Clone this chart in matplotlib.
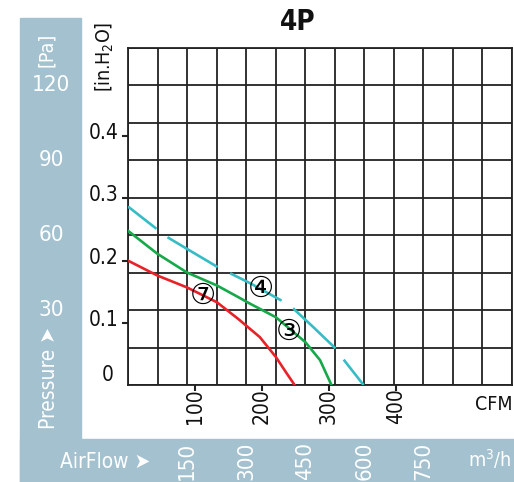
# -*- coding:utf-8 -*-
"""4P 风机 P-Q 曲线"""
import matplotlib
matplotlib.use('Agg')
import matplotlib.pyplot as plt
from matplotlib.patches import Rectangle
from matplotlib.ticker import FixedLocator, NullFormatter
import matplotlib.transforms as mtransforms

plt.rcParams['font.family'] = ['DejaVu Sans']
plt.rcParams['font.stretch'] = 'condensed'
plt.rcParams['lines.scale_dashes'] = False

# 数据 (CFM, inH2O)
red_q = [0, 44, 88, 133, 165, 197, 221, 237, 249]
red_p = [0.200, 0.176, 0.157, 0.133, 0.106, 0.077, 0.045, 0.019, 0.0]
green_q = [0, 44, 88, 133, 167, 182, 221, 265, 287, 304]
green_p = [0.248, 0.211, 0.181, 0.160, 0.140, 0.131, 0.109, 0.069, 0.040, 0.0]
cyan_q = [0, 44, 60, 88, 135, 154, 182, 229, 247, 277, 309, 320, 352]
cyan_p = [0.287, 0.250, 0.237, 0.219, 0.189, 0.179, 0.164, 0.136, 0.123, 0.093, 0.060, 0.044, 0.0]

cfm_ticks = [100, 200, 300, 400]
inh2o_ticks = [0.1, 0.2, 0.3, 0.4]
pa_labels = [30, 60, 90, 120]
m3h_labels = [150, 300, 450, 600, 750]

PA_PER_INH2O = 249.09
M3H_PER_CFM = 1.699

bg = '#a4c1d0'

fig = plt.figure(figsize=(5.14, 4.82), dpi=100)
W, H = 514, 482

# 蓝色背景
fig.patches.append(Rectangle((20 / W, 0), 61 / W, 1 - 18 / H, transform=fig.transFigure,
                             color=bg, zorder=-2))
fig.patches.append(Rectangle((20 / W, 0), 1, 1 - 439 / H, transform=fig.transFigure,
                             color=bg, zorder=-2))

ax = fig.add_axes([128 / W, 1 - 385 / H, 384 / W, 337 / H])
ax.set_xlim(0, 975 / M3H_PER_CFM)
ax.set_ylim(0, 135 / PA_PER_INH2O)

# 网格 (75 m3/h, 15 Pa)
ax.xaxis.set_minor_locator(FixedLocator([k * 75 / M3H_PER_CFM for k in range(14)]))
ax.yaxis.set_minor_locator(FixedLocator([k * 15 / PA_PER_INH2O for k in range(10)]))
ax.grid(which='minor', color='#222222', lw=1.3)
ax.tick_params(which='minor', length=0)
ax.set_xticks(cfm_ticks)
ax.set_yticks(inh2o_ticks)
ax.xaxis.set_major_formatter(NullFormatter())
ax.yaxis.set_major_formatter(NullFormatter())
ax.tick_params(which='major', length=4, width=1.5, color='#222222')
for s in ax.spines.values():
    s.set_color('#222222')
    s.set_linewidth(1.3)

ax.plot(red_q, red_p, color='#e82228', lw=1.9, zorder=3)
ax.plot(green_q, green_p, color='#17a84a', lw=1.9, zorder=3)
ax.plot(cyan_q, cyan_p, color='#35bcc4', lw=1.9, zorder=3,
        linestyle=(16, (42, 10)), dash_capstyle='butt')

# 曲线编号
circ = dict(family=['DejaVu Sans', 'Noto Sans CJK SC'], fontsize=21, stretch='normal',
            ha='center', va='center', zorder=4)
ax.text(112, 0.144, '\u2466', **circ)
ax.text(198, 0.155, '\u2463', **circ)
ax.text(241, 0.085, '\u2462', **circ)

# 刻度文字
lab = dict(fontsize=15, color='#111111')
tr_y = mtransforms.blended_transform_factory(fig.transFigure, ax.transData)
tr_x = mtransforms.blended_transform_factory(ax.transData, fig.transFigure)
for v in inh2o_ticks:
    ax.text(104 / W, v + 0.005, '%.1f' % v, transform=tr_y, ha='center', va='center', **lab)
ax.text(108 / W, 0.0, '0', transform=tr_y, ha='center', va='bottom', **lab)
for v in cfm_ticks:
    ax.text(v, 1 - 406 / H, str(v), transform=tr_x, rotation=90,
            ha='center', va='center', **lab)
fig.text(494 / W, 1 - 405 / H, 'CFM', ha='center', va='center', fontsize=14, color='#111111')
fig.text(105 / W, 1 - 57 / H, '[in.H$_2$O]', rotation=90, ha='center', va='center',
         fontsize=14, color='#111111')

# 白色文字
wl = dict(fontsize=16, color='white')
for v in pa_labels:
    ax.text(51 / W, v / PA_PER_INH2O, str(v), transform=tr_y, ha='center', va='center', **wl)
fig.text(46 / W, 1 - 50 / H, '[Pa]', rotation=90, ha='center', va='center', fontsize=14,
         color='white')
fig.text(49 / W, 1 - 378 / H, 'Pressure \u27a4', rotation=90, ha='center', va='center',
         fontsize=15, color='white')
fig.text(105 / W, 1 - 462 / H, 'AirFlow \u27a4', ha='center', va='center',
         fontsize=15, color='white')
for v in m3h_labels:
    ax.text(v / M3H_PER_CFM, 1 - 461 / H, str(v), transform=tr_x, rotation=90,
            ha='center', va='center', **wl)
fig.text(490 / W, 1 - 459 / H, 'm$^3$/h', ha='center', va='center', fontsize=14, color='white')

fig.text(298 / W, 1 - 22 / H, '4P', fontsize=20, fontweight='bold',
         ha='center', va='center', color='#111111')

fig.savefig('out.png', dpi=100)
